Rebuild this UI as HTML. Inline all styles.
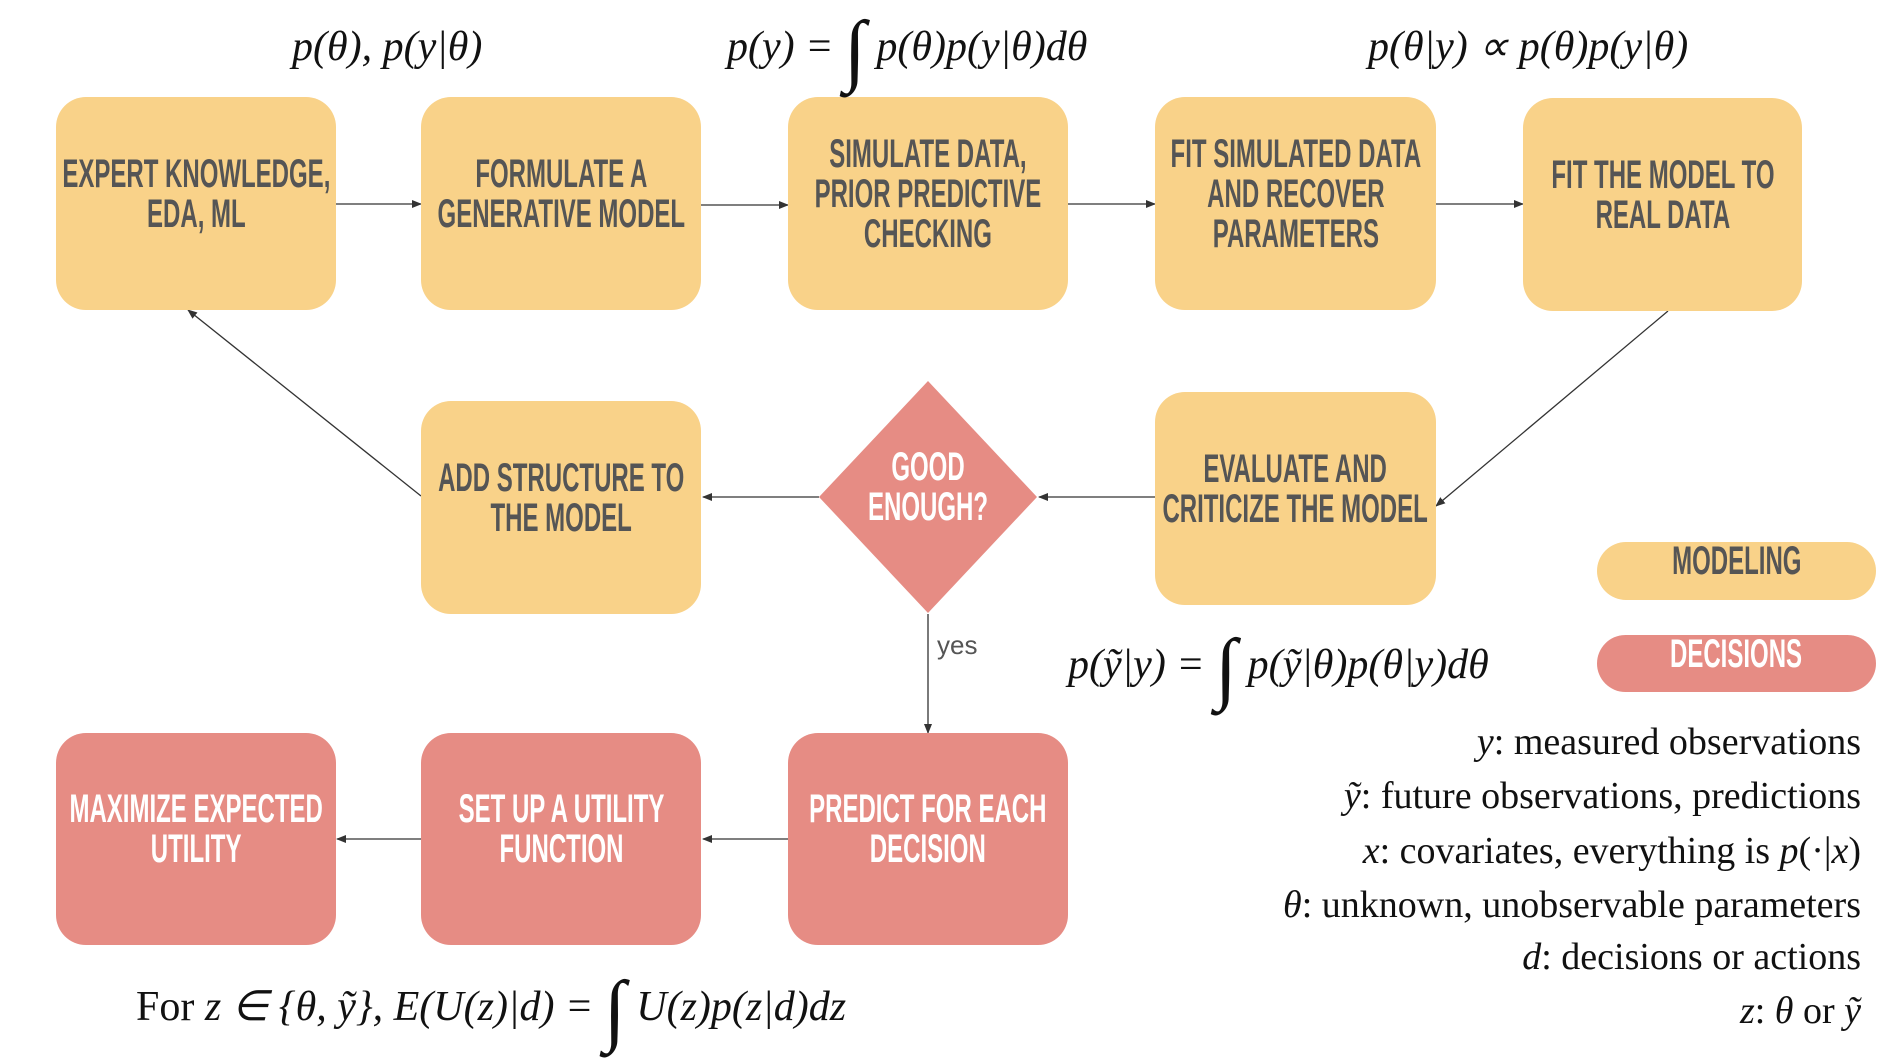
<!DOCTYPE html>
<html><head><meta charset="utf-8"><style>
body{margin:0;width:1898px;height:1058px;background:#fff;position:relative;overflow:hidden;font-family:"Liberation Serif",serif}
.b{position:absolute;display:flex;align-items:center;justify-content:center;text-align:center;border-radius:30px;color:#555;font-family:"Liberation Sans",sans-serif;font-weight:bold;font-size:40px;line-height:40px}
.b span{display:inline-block;transform:translateY(-10px) scaleX(0.6);white-space:nowrap}
.y{background:#F9D289}
.r{background:#E68C84;color:#fff}
.t{position:absolute;font-size:42px;line-height:50px;font-style:italic;white-space:nowrap;color:#111}
.t .i{font-size:80px;line-height:0;vertical-align:-16px;font-style:normal}
.l{position:absolute;right:37px;font-size:38px;white-space:nowrap;color:#111}
.l i{font-style:italic}
</style></head><body>
<svg width="1898" height="1058" style="position:absolute;left:0;top:0">
<defs><marker id="a" markerWidth="10" markerHeight="8" refX="9" refY="4" orient="auto" markerUnits="userSpaceOnUse"><path d="M0,0 L10,4 L0,8 Z" fill="#333"/></marker></defs>
<g stroke="#333" stroke-width="1.3" marker-end="url(#a)">
<line x1="335" y1="204" x2="421" y2="204"/>
<line x1="701" y1="205" x2="788" y2="205"/>
<line x1="1068" y1="204" x2="1155" y2="204"/>
<line x1="1436" y1="204" x2="1523" y2="204"/>
<line x1="1668" y1="311" x2="1436" y2="506"/>
<line x1="1155" y1="497" x2="1039" y2="497"/>
<line x1="819" y1="497" x2="703" y2="497"/>
<line x1="421" y1="496" x2="188" y2="310"/>
<line x1="928" y1="614" x2="928" y2="733"/>
<line x1="788" y1="839" x2="703" y2="839"/>
<line x1="421" y1="839" x2="337" y2="839"/>
</g>
<polygon points="928,381 1037,497 928,613 819,497" fill="#E68C84"/>
</svg>
<div class="b y" style="left:56px;top:97px;width:280px;height:213px"><span>EXPERT KNOWLEDGE,<br>EDA, ML</span></div>
<div class="b y" style="left:421px;top:97px;width:280px;height:213px"><span>FORMULATE A<br>GENERATIVE MODEL</span></div>
<div class="b y" style="left:788px;top:97px;width:280px;height:213px"><span>SIMULATE DATA,<br>PRIOR PREDICTIVE<br>CHECKING</span></div>
<div class="b y" style="left:1155px;top:97px;width:281px;height:213px"><span>FIT SIMULATED DATA<br>AND RECOVER<br>PARAMETERS</span></div>
<div class="b y" style="left:1523px;top:98px;width:279px;height:213px"><span>FIT THE MODEL TO<br>REAL DATA</span></div>
<div class="b y" style="left:421px;top:401px;width:280px;height:213px"><span>ADD STRUCTURE TO<br>THE MODEL</span></div>
<div class="b y" style="left:1155px;top:392px;width:281px;height:213px"><span>EVALUATE AND<br>CRITICIZE THE MODEL</span></div>
<div class="b r" style="left:839px;top:437px;width:178px;height:120px;background:none"><span>GOOD<br>ENOUGH?</span></div>
<div class="b r" style="left:56px;top:733px;width:280px;height:212px"><span>MAXIMIZE EXPECTED<br>UTILITY</span></div>
<div class="b r" style="left:421px;top:733px;width:280px;height:212px"><span>SET UP A UTILITY<br>FUNCTION</span></div>
<div class="b r" style="left:788px;top:733px;width:280px;height:212px"><span>PREDICT FOR EACH<br>DECISION</span></div>
<div class="b y" style="left:1597px;top:542px;width:279px;height:58px;border-radius:29px"><span>MODELING</span></div>
<div class="b r" style="left:1597px;top:635px;width:279px;height:57px;border-radius:29px"><span>DECISIONS</span></div>
<div style="position:absolute;left:937px;top:630px;font-family:'Liberation Sans',sans-serif;font-size:26px;color:#555">yes</div>
<div class="t" style="left:292px;top:22px">p(θ), p(y|θ)</div>
<div class="t" style="left:727px;top:22px">p(y) = <span class="i">∫</span> p(θ)p(y|θ)dθ</div>
<div class="t" style="left:1368px;top:22px">p(θ|y) ∝ p(θ)p(y|θ)</div>
<div class="t" style="left:1068px;top:640px">p(ỹ|y) = <span class="i">∫</span> p(ỹ|θ)p(θ|y)dθ</div>
<div class="t" style="left:136px;top:982px"><span style="font-style:normal">For</span> z ∈ {θ, ỹ}, E(U(z)|d) = <span class="i">∫</span> U(z)p(z|d)dz</div>
<div class="l" style="top:720px"><i>y</i>: measured observations</div>
<div class="l" style="top:774px"><i>ỹ</i>: future observations, predictions</div>
<div class="l" style="top:829px"><i>x</i>: covariates, everything is <i>p</i>(·|<i>x</i>)</div>
<div class="l" style="top:883px"><i>θ</i>: unknown, unobservable parameters</div>
<div class="l" style="top:935px"><i>d</i>: decisions or actions</div>
<div class="l" style="top:989px"><i>z</i>: <i>θ</i> or <i>ỹ</i></div>
</body></html>
